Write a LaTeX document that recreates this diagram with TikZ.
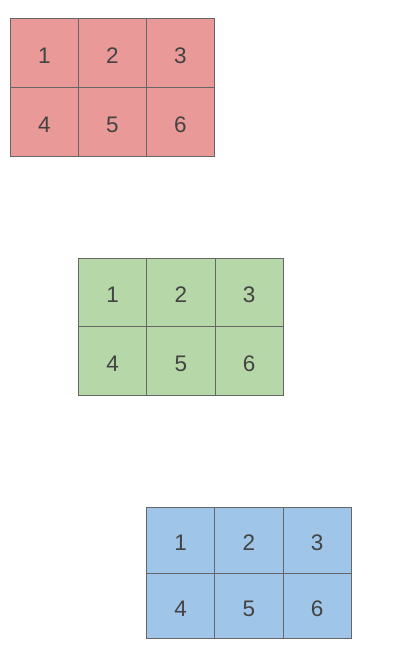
\documentclass[tikz,border=0pt]{standalone}
\usepackage{fontspec}
\setmainfont{Liberation Sans}
\definecolor{redfill}{HTML}{EA9999}
\definecolor{greenfill}{HTML}{B6D7A8}
\definecolor{bluefill}{HTML}{9FC5E8}
\definecolor{gridline}{HTML}{666666}
\definecolor{numtext}{HTML}{434343}
\tikzset{
  cell/.style={draw=gridline, line width=0.8pt, rectangle, inner sep=0pt,
    text=numtext, font=\fontsize{22.5}{22.5}\selectfont, anchor=north west,
    text height=21pt, text depth=0pt},
  redcell/.style={cell, fill=redfill, minimum width=68pt, minimum height=69pt},
  greencell/.style={cell, fill=greenfill, minimum width=68.3pt, minimum height=68.5pt},
  bluecell/.style={cell, fill=bluefill, minimum width=68.3pt, minimum height=65.5pt},
}
\begin{document}
\begin{tikzpicture}[x=1pt,y=-1pt]
\useasboundingbox[fill=white] (0,0) rectangle (415,656);
% red grid
\foreach \r in {0,1}{
  \foreach \c in {0,1,2}{
    \pgfmathtruncatemacro\n{\r*3+\c+1}
    \node[redcell] (r\n) at ({10+\c*68},{18+\r*69}) {\n};
  }
}
% green grid
\foreach \r in {0,1}{
  \foreach \c in {0,1,2}{
    \pgfmathtruncatemacro\n{\r*3+\c+1}
    \node[greencell] (g\n) at ({78+\c*68.3},{257.5+\r*68.5}) {\n};
  }
}
% blue grid
\foreach \r in {0,1}{
  \foreach \c in {0,1,2}{
    \pgfmathtruncatemacro\n{\r*3+\c+1}
    \node[bluecell] (b\n) at ({146+\c*68.3},{507+\r*65.5}) {\n};
  }
}
\end{tikzpicture}
\end{document}
